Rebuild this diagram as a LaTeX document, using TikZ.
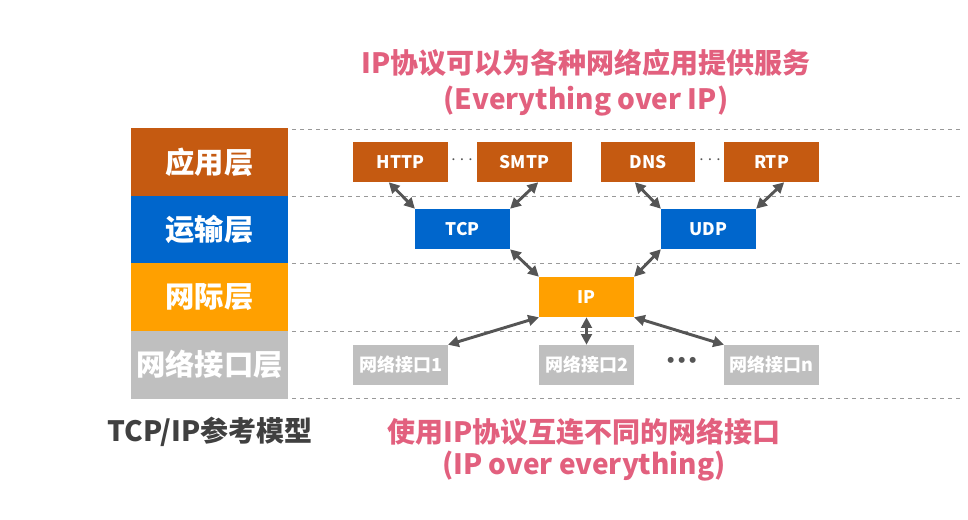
\documentclass[tikz,border=0pt]{standalone}
\usepackage{fontspec}
\setmainfont{Noto Sans CJK SC}
\usetikzlibrary{arrows.meta}

\definecolor{w}{RGB}{255,255,255}
\definecolor{b}{RGB}{197,90,17}
\definecolor{u}{RGB}{0,102,204}
\definecolor{o}{RGB}{255,160,0}
\definecolor{g}{RGB}{191,191,191}
\definecolor{p}{RGB}{226,96,126}
\definecolor{k}{RGB}{85,85,85}
\definecolor{d}{RGB}{64,64,64}

\begin{document}
\begin{tikzpicture}[
        x=0.75pt, y=-0.75pt,
        layer/.style={minimum width=118pt, minimum height=51pt, inner sep=0pt, text=w, font=\fontsize{22}{24}\selectfont\bfseries},
        brown/.style={fill=b, minimum width=71pt, minimum height=30pt, inner sep=0pt, text=w, font=\fontsize{13}{14}\selectfont\bfseries},
        blue/.style={brown, fill=u},
        orange/.style={brown, fill=o},
        grey/.style={brown, fill=g, font=\fontsize{13.5}{14}\selectfont\bfseries},
        note/.style={text=p, font=\fontsize{21}{25}\selectfont\bfseries},
        sep/.style={g!80!black, dashed, thin},
        link/.style={k, line width=2.2pt, {Triangle[length=8pt,width=8pt]}-{Triangle[length=8pt,width=8pt]}},
    ]
    \useasboundingbox (0,0) rectangle (968,519);

    % layers
    \node[layer, fill=b] (l1) at (209.5,162) {应用层};
    \node[layer, fill=u] (l2) at (209.5,229.5) {运输层};
    \node[layer, fill=o] (l3) at (209.5,297) {网际层};
    \node[layer, fill=g] (l4) at (209.5,364.5) {网络接口层};

    \foreach \y in {129.5,196,263.5,331,398}
        \draw[sep] (292,\y) -- (962,\y);

    \node[brown] (1) at (400.5,162) {HTTP};
    \node[brown] (2) at (524.5,162) {SMTP};
    \node[brown] (3) at (648,162) {DNS};
    \node[brown] (4) at (771.5,162) {RTP};
    \node[k, font=\Large\bfseries] at (462,160) {$\cdots$};
    \node[k, font=\Large\bfseries] at (710,160) {$\cdots$};

    \node[blue] (5) at (462.5,229) {TCP};
    \node[blue] (6) at (708.5,229) {UDP};

    \node[orange] (7) at (586.5,297) {IP};

    \node[grey] (8) at (400.5,365) {网络接口1};
    \node[grey] (9) at (586.5,365) {网络接口2};
    \node[grey] (10) at (771.5,365) {网络接口n};
    \node[k, font=\fontsize{16}{16}\selectfont\bfseries] at (682,363) {•\kern-8pt•\kern-8pt•};

    \path[link]
    (1.-120) edge (5.north west)
    (2.-56) edge (5.north east)
    (3.-123) edge (6.north west)
    (4.-58) edge (6.north east)
    (5.south east) edge (7.north west)
    (6.south west) edge (7.north east)
    (7.south west) edge (8.north east)
    (7.south) edge (9.north)
    (7.south east) edge (10.north west)
    ;

    \node[note] (t1) at (586,63) {IP协议可以为各种网络应用提供服务};
    \node[note] (t2) at (586,101) {(Everything over IP)};
    \node[note] (t3) at (584,432) {使用IP协议互连不同的网络接口};
    \node[note] (t4) at (584,466) {(IP over everything)};
    \node[text=d, font=\fontsize{21}{24}\selectfont\bfseries] (t5) at (210,432) {TCP/IP参考模型};
\end{tikzpicture}
\end{document}
